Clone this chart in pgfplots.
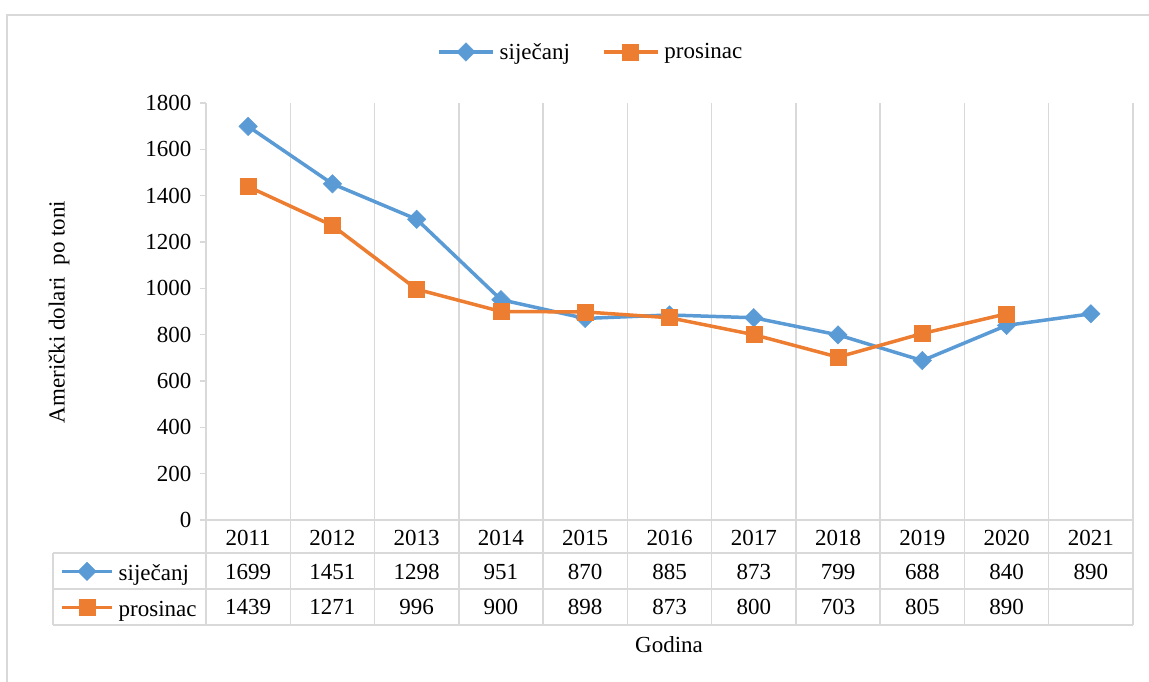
\documentclass[border=0pt]{standalone}
\usepackage{pgfplots}
\pgfplotsset{compat=1.18}
\usepackage{fontspec}
\setmainfont{Liberation Serif}
\definecolor{sblue}{HTML}{5B9BD5}
\definecolor{sorange}{HTML}{ED7D31}
\definecolor{gridgray}{HTML}{D9D9D9}
\newcommand{\ff}{\fontsize{23}{27}\selectfont}
\pgfplotsset{
  blueline/.style={sblue, line width=3.5pt, mark=square*, mark size=6.5pt, mark options={rotate=45, line width=0.5pt}},
  orangeline/.style={sorange, line width=3.5pt, mark=square*, mark size=8pt, mark options={line width=0.5pt}},
}
\begin{document}
\begin{tikzpicture}[x=1pt,y=1pt]
\useasboundingbox (0,0) rectangle (1149,682);
\draw[gridgray, line width=1.5pt] (7,-10) -- (7,667) -- (1160,667);

\begin{axis}[at={(206pt,162pt)}, anchor=south west, scale only axis,
  width=927pt, height=417pt,
  xmin=-0.5, xmax=10.5, ymin=0, ymax=1800,
  axis x line=bottom, axis y line=left,
  axis line style={-, draw=gridgray, line width=1.5pt},
  xtick={-0.5,0.5,1.5,2.5,3.5,4.5,5.5,6.5,7.5,8.5,9.5,10.5}, xticklabels={},
  x tick style={draw=none},
  xmajorgrids,
  major grid style={draw=gridgray, line width=1.5pt},
  ytick={0,200,...,1800},
  tick align=outside, major tick length=6pt,
  y tick style={draw=gridgray, line width=1.5pt},
  yticklabel style={font=\ff, /pgf/number format/1000 sep={}, xshift=-5pt},
  /pgf/number format/assume math mode=true,
  clip=false,
  legend columns=2,
  legend style={at={(axis description cs:0.414,1.1223)}, anchor=center, draw=none, fill=none,
    font=\ff, inner sep=0pt, nodes={inner sep=0pt},
    /tikz/every odd column/.append style={column sep=5pt},
    /tikz/every even column/.append style={column sep=32pt}},
  legend image code/.code={\draw[mark repeat=2,mark phase=2] plot coordinates {(0pt,0pt)(27pt,0pt)(54pt,0pt)};},
]
\addplot[blueline] coordinates {(0,1699)(1,1451)(2,1298)(3,951)(4,870)(5,885)(6,873)(7,799)(8,688)(9,840)(10,890)};
\addlegendentry{siječanj}
\addplot[orangeline] coordinates {(0,1439)(1,1271)(2,996)(3,900)(4,898)(5,873)(6,800)(7,703)(8,805)(9,890)};
\addlegendentry{prosinac}
\end{axis}

\begin{axis}[at={(206pt,162pt)}, anchor=south west, scale only axis,
  width=927pt, height=417pt, hide axis,
  xmin=-0.5, xmax=10.5, ymin=0, ymax=1800,
  legend style={at={(axis description cs:-0.1575,-0.1007)}, anchor=north west, draw=none, fill=none,
    font=\ff, inner sep=0pt, row sep=6pt, nodes={inner sep=0pt, text height=18pt, text depth=12pt},
    /tikz/every odd column/.append style={column sep=5pt}},
  legend cell align=left,
  legend image code/.code={\draw[mark repeat=2,mark phase=2, yshift=6pt] plot coordinates {(0pt,0pt)(25pt,0pt)(50pt,0pt)};},
]
\addlegendimage{blueline}
\addlegendentry{siječanj}
\addlegendimage{orangeline}
\addlegendentry{prosinac}
\end{axis}

% data table grid
\begin{scope}[gridgray, line width=1.5pt]
\draw (200,162) -- (206,162);
\draw (53,129) -- (1133,129);
\draw (53,93) -- (1133,93);
\draw (53,57) -- (1133,57);
\draw (53,57) -- (53,129);
\draw (206,57) -- (206,162);
\foreach \k in {1,...,11} {\draw ({206+84.2727*\k},57) -- ({206+84.2727*\k},162);}
\end{scope}
\begin{scope}[every node/.style={font=\ff, inner sep=0pt, anchor=base}]
\foreach \y [count=\i from 0] in {2011,2012,2013,2014,2015,2016,2017,2018,2019,2020,2021}
  \node at ({206+84.2727*(\i+0.5)},136) {\y};
\foreach \v [count=\i from 0] in {1699,1451,1298,951,870,885,873,799,688,840,890}
  \node at ({206+84.2727*(\i+0.5)},102) {\v};
\foreach \v [count=\i from 0] in {1439,1271,996,900,898,873,800,703,805,890}
  \node at ({206+84.2727*(\i+0.5)},67) {\v};
\node at (669,29) {Godina};
\end{scope}
\node[font=\ff, rotate=90, inner sep=0pt] at (59,370) {Američki dolari\ \ po toni};
\end{tikzpicture}
\end{document}
